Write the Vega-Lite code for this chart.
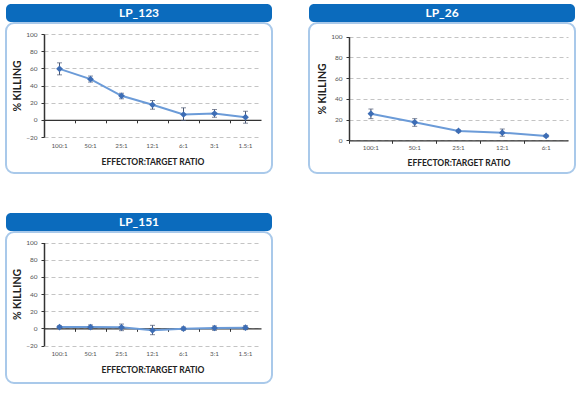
{
  "$schema": "https://vega.github.io/schema/vega-lite/v6.json",
  "padding": {"left": 5, "top": 4, "right": 0, "bottom": 0},
  "background": "white",
  "spacing": 39,
  "config": {
    "axis": {"labelFont": "Lato", "titleFont": "Lato", "labelOverlap": false, "labelBound": false, "tickCount": 7},
    "concat": {"spacing": 0}
  },
  "datasets": {
    "p1": [
      {"ratio": "100:1", "v": 59.4, "lo": 52.4, "hi": 66.4},
      {"ratio": "50:1", "v": 47.4, "lo": 44, "hi": 51},
      {"ratio": "25:1", "v": 28, "lo": 24.5, "hi": 31},
      {"ratio": "12:1", "v": 17.5, "lo": 12.4, "hi": 22.5},
      {"ratio": "6:1", "v": 6.2, "lo": -0.8, "hi": 14},
      {"ratio": "3:1", "v": 7.4, "lo": 3, "hi": 12},
      {"ratio": "1.5:1", "v": 3.1, "lo": -3.9, "hi": 10}
    ],
    "p2": [
      {"ratio": "100:1", "v": 25.7, "lo": 20.9, "hi": 30.2},
      {"ratio": "50:1", "v": 17.4, "lo": 13.5, "hi": 20.9},
      {"ratio": "25:1", "v": 9, "lo": 8, "hi": 10},
      {"ratio": "12:1", "v": 7.4, "lo": 3.9, "hi": 10.9},
      {"ratio": "6:1", "v": 4.2, "lo": 3.2, "hi": 5.2}
    ],
    "p3": [
      {"ratio": "100:1", "v": 1.5, "lo": 0, "hi": 3},
      {"ratio": "50:1", "v": 1.5, "lo": -0.8, "hi": 3.9},
      {"ratio": "25:1", "v": 1.2, "lo": -2.7, "hi": 5},
      {"ratio": "12:1", "v": -2.3, "lo": -7.4, "hi": 3.5},
      {"ratio": "6:1", "v": -0.4, "lo": -2.3, "hi": 1.5},
      {"ratio": "3:1", "v": 0.4, "lo": -2.3, "hi": 2.7},
      {"ratio": "1.5:1", "v": 0.8, "lo": -1.5, "hi": 3}
    ],
    "h1": [{"t": "LP_123"}],
    "h2": [{"t": "LP_26"}],
    "h3": [{"t": "LP_151"}]
  },
  "vconcat": [
    {
      "spacing": 35,
      "hconcat": [
        {
          "spacing": 0,
          "vconcat": [
            {
              "width": 266, "height": 18,
              "data": {"name": "h1"},
              "mark": {"type": "text", "color": "white", "font": "Lato", "fontWeight": "bold", "fontSize": 12, "baseline": "middle", "align": "center"},
              "encoding": {"text": {"field": "t"}},
              "view": {"fill": "#0b6bbd", "stroke": null, "cornerRadius": 5}
            },
            {
              "width": 266, "height": 150,
              "data": {"name": "p1"},
              "view": {"stroke": "#a9c9ea", "strokeWidth": 2, "cornerRadius": 8},
              "resolve": {"axis": {"x": "independent"}},
              "layer": [
                {
                  "mark": {"type": "rule", "color": "#4a5670", "strokeWidth": 1},
                  "encoding": {
                    "x": {"field": "ratio", "type": "nominal", "sort": null,
                      "scale": {"type": "band", "range": [38, 255], "paddingInner": 0, "paddingOuter": 0},
                      "axis": {"orient": "bottom", "offset": -53.17, "labels": false, "title": null, "domain": true, "domainColor": "#333333", "domainWidth": 1.3, "ticks": true, "tickSize": 3, "tickColor": "#333333", "bandPosition": 0, "grid": false}},
                    "y": {"field": "lo", "type": "quantitative",
                      "scale": {"domain": [-20, 100], "range": [114, 11], "nice": false, "zero": false},
                      "axis": {"orient": "left", "offset": -38, "values": [-20, 0, 20, 40, 60, 80, 100], "tickCount": 7, "grid": true, "gridDash": [4, 3], "gridColor": "#c4c4c4", "domainColor": "#333333", "domainWidth": 1.5, "tickSize": 3, "tickColor": "#333333", "labelFontSize": 6.5, "labelColor": "#555555", "labelPadding": 4, "title": "% KILLING", "titleFontSize": 10.5, "titleFontWeight": "bold", "titlePadding": 3, "titleColor": "#222222"}},
                    "y2": {"field": "hi"}
                  }
                },
                {
                  "mark": {"type": "line", "color": "#6b9bd8", "strokeWidth": 2},
                  "encoding": {
                    "x": {"field": "ratio", "type": "nominal", "sort": null,
                      "axis": {"orient": "bottom", "offset": -36, "domain": false, "ticks": false, "tickSize": 0, "labelPadding": 5, "labelAngle": 0, "labelFontSize": 6.3, "labelColor": "#555555", "title": "EFFECTOR:TARGET RATIO", "titleFontSize": 8.5, "titleFontWeight": "bold", "titlePadding": 9, "titleColor": "#222222", "grid": false}},
                    "y": {"field": "v", "type": "quantitative"}
                  }
                },
                {
                  "mark": {"type": "tick", "color": "#4a5670", "size": 5, "thickness": 1},
                  "encoding": {
                    "x": {"field": "ratio", "type": "nominal", "sort": null, "axis": null},
                    "y": {"field": "lo", "type": "quantitative"}
                  }
                },
                {
                  "mark": {"type": "tick", "color": "#4a5670", "size": 5, "thickness": 1},
                  "encoding": {
                    "x": {"field": "ratio", "type": "nominal", "sort": null, "axis": null},
                    "y": {"field": "hi", "type": "quantitative"}
                  }
                },
                {
                  "mark": {"type": "point", "shape": "diamond", "filled": true, "size": 45, "color": "#3d6db5", "opacity": 1},
                  "encoding": {
                    "x": {"field": "ratio", "type": "nominal", "sort": null, "axis": null},
                    "y": {"field": "v", "type": "quantitative"}
                  }
                }
              ]
            }
          ]
        },
        {
          "spacing": 0,
          "vconcat": [
            {
              "width": 266, "height": 18,
              "data": {"name": "h2"},
              "mark": {"type": "text", "color": "white", "font": "Lato", "fontWeight": "bold", "fontSize": 12, "baseline": "middle", "align": "center"},
              "encoding": {"text": {"field": "t"}},
              "view": {"fill": "#0b6bbd", "stroke": null, "cornerRadius": 5}
            },
            {
              "width": 266, "height": 150,
              "data": {"name": "p2"},
              "view": {"stroke": "#a9c9ea", "strokeWidth": 2, "cornerRadius": 8},
              "resolve": {"axis": {"x": "independent"}},
              "layer": [
                {
                  "mark": {"type": "rule", "color": "#4a5670", "strokeWidth": 1},
                  "encoding": {
                    "x": {"field": "ratio", "type": "nominal", "sort": null,
                      "scale": {"type": "band", "range": [40, 259], "paddingInner": 0, "paddingOuter": 0},
                      "axis": {"orient": "bottom", "offset": -32.7, "labels": false, "title": null, "domain": true, "domainColor": "#333333", "domainWidth": 1.3, "ticks": true, "tickSize": 3, "tickColor": "#333333", "bandPosition": 0, "grid": false}},
                    "y": {"field": "lo", "type": "quantitative",
                      "scale": {"domain": [0, 100], "range": [117.3, 13.7], "nice": false, "zero": false},
                      "axis": {"orient": "left", "offset": -40, "values": [0, 20, 40, 60, 80, 100], "tickCount": 6, "grid": true, "gridDash": [4, 3], "gridColor": "#c4c4c4", "domainColor": "#333333", "domainWidth": 1.5, "tickSize": 3, "tickColor": "#333333", "labelFontSize": 6.5, "labelColor": "#555555", "labelPadding": 4, "title": "% KILLING", "titleFontSize": 10.5, "titleFontWeight": "bold", "titlePadding": 3, "titleColor": "#222222"}},
                    "y2": {"field": "hi"}
                  }
                },
                {
                  "mark": {"type": "line", "color": "#6b9bd8", "strokeWidth": 2},
                  "encoding": {
                    "x": {"field": "ratio", "type": "nominal", "sort": null,
                      "axis": {"orient": "bottom", "offset": -32.7, "domain": false, "ticks": false, "tickSize": 0, "labelPadding": 4, "labelAngle": 0, "labelFontSize": 6.3, "labelColor": "#555555", "title": "EFFECTOR:TARGET RATIO", "titleFontSize": 8.5, "titleFontWeight": "bold", "titlePadding": 8, "titleColor": "#222222", "grid": false}},
                    "y": {"field": "v", "type": "quantitative"}
                  }
                },
                {
                  "mark": {"type": "tick", "color": "#4a5670", "size": 5, "thickness": 1},
                  "encoding": {
                    "x": {"field": "ratio", "type": "nominal", "sort": null, "axis": null},
                    "y": {"field": "lo", "type": "quantitative"}
                  }
                },
                {
                  "mark": {"type": "tick", "color": "#4a5670", "size": 5, "thickness": 1},
                  "encoding": {
                    "x": {"field": "ratio", "type": "nominal", "sort": null, "axis": null},
                    "y": {"field": "hi", "type": "quantitative"}
                  }
                },
                {
                  "mark": {"type": "point", "shape": "diamond", "filled": true, "size": 45, "color": "#3d6db5", "opacity": 1},
                  "encoding": {
                    "x": {"field": "ratio", "type": "nominal", "sort": null, "axis": null},
                    "y": {"field": "v", "type": "quantitative"}
                  }
                }
              ]
            }
          ]
        }
      ]
    },
    {
      "hconcat": [
        {
          "spacing": 0,
          "vconcat": [
            {
              "width": 266, "height": 18,
              "data": {"name": "h3"},
              "mark": {"type": "text", "color": "white", "font": "Lato", "fontWeight": "bold", "fontSize": 12, "baseline": "middle", "align": "center"},
              "encoding": {"text": {"field": "t"}},
              "view": {"fill": "#0b6bbd", "stroke": null, "cornerRadius": 5}
            },
            {
              "width": 266, "height": 151,
              "data": {"name": "p3"},
              "view": {"stroke": "#a9c9ea", "strokeWidth": 2, "cornerRadius": 8},
              "resolve": {"axis": {"x": "independent"}},
              "layer": [
                {
                  "mark": {"type": "rule", "color": "#4a5670", "strokeWidth": 1},
                  "encoding": {
                    "x": {"field": "ratio", "type": "nominal", "sort": null,
                      "scale": {"type": "band", "range": [38, 255], "paddingInner": 0, "paddingOuter": 0},
                      "axis": {"orient": "bottom", "offset": -54.67, "labels": false, "title": null, "domain": true, "domainColor": "#333333", "domainWidth": 1.3, "ticks": true, "tickSize": 3, "tickColor": "#333333", "bandPosition": 0, "grid": false}},
                    "y": {"field": "lo", "type": "quantitative",
                      "scale": {"domain": [-20, 100], "range": [113.5, 10.5], "nice": false, "zero": false},
                      "axis": {"orient": "left", "offset": -38, "values": [-20, 0, 20, 40, 60, 80, 100], "tickCount": 7, "grid": true, "gridDash": [4, 3], "gridColor": "#c4c4c4", "domainColor": "#333333", "domainWidth": 1.5, "tickSize": 3, "tickColor": "#333333", "labelFontSize": 6.5, "labelColor": "#555555", "labelPadding": 4, "title": "% KILLING", "titleFontSize": 10.5, "titleFontWeight": "bold", "titlePadding": 3, "titleColor": "#222222"}},
                    "y2": {"field": "hi"}
                  }
                },
                {
                  "mark": {"type": "line", "color": "#6b9bd8", "strokeWidth": 2},
                  "encoding": {
                    "x": {"field": "ratio", "type": "nominal", "sort": null,
                      "axis": {"orient": "bottom", "offset": -37.5, "domain": false, "ticks": false, "tickSize": 0, "labelPadding": 5, "labelAngle": 0, "labelFontSize": 6.3, "labelColor": "#555555", "title": "EFFECTOR:TARGET RATIO", "titleFontSize": 8.5, "titleFontWeight": "bold", "titlePadding": 9, "titleColor": "#222222", "grid": false}},
                    "y": {"field": "v", "type": "quantitative"}
                  }
                },
                {
                  "mark": {"type": "tick", "color": "#4a5670", "size": 5, "thickness": 1},
                  "encoding": {
                    "x": {"field": "ratio", "type": "nominal", "sort": null, "axis": null},
                    "y": {"field": "lo", "type": "quantitative"}
                  }
                },
                {
                  "mark": {"type": "tick", "color": "#4a5670", "size": 5, "thickness": 1},
                  "encoding": {
                    "x": {"field": "ratio", "type": "nominal", "sort": null, "axis": null},
                    "y": {"field": "hi", "type": "quantitative"}
                  }
                },
                {
                  "mark": {"type": "point", "shape": "diamond", "filled": true, "size": 45, "color": "#3d6db5", "opacity": 1},
                  "encoding": {
                    "x": {"field": "ratio", "type": "nominal", "sort": null, "axis": null},
                    "y": {"field": "v", "type": "quantitative"}
                  }
                }
              ]
            }
          ]
        }
      ]
    }
  ]
}
